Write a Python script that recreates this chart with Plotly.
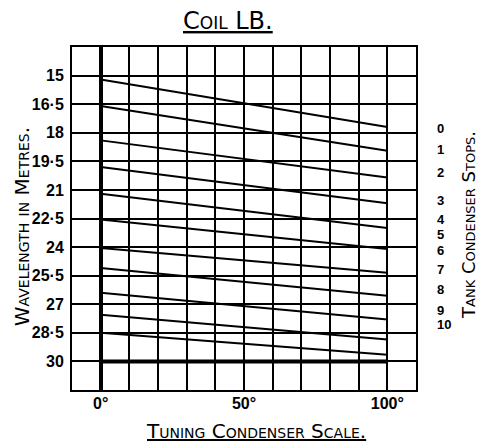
import plotly.graph_objects as go

# ---- data ----
stops = ["0", "1", "2", "3", "4", "5", "6", "7", "8", "9", "10"]
dial = [0, 100]  # tuning condenser scale (degrees)
wl_at_0 = [15.2, 16.6, 18.4, 19.8, 21.2, 22.55, 24.05, 25.1, 26.4, 27.55, 28.5]
wl_at_100 = [17.7, 18.95, 20.35, 21.7, 23.0, 24.1, 25.35, 26.55, 27.8, 28.85, 29.65]
base_line = [30, 30]

x_ticks = [-10, 0, 10, 20, 30, 40, 50, 60, 70, 80, 90, 100, 110]
x_ticktext = ["", "0°", "", "", "", "", "50°", "", "", "", "", "100°", ""]
y_ticks = [13.5, 15, 16.5, 18, 19.5, 21, 22.5, 24, 25.5, 27, 28.5, 30, 31.5]
y_ticktext = ["", "15", "16·5", "18", "19·5", "21", "22·5", "24", "25·5", "27", "28·5", "30", ""]
stop_label_pos = [17.75, 18.85, 20.1, 21.55, 22.55, 23.35, 24.15, 25.15, 26.2, 27.32, 28.06]

FONT = "DejaVu Sans"
NUMFONT = "Liberation Sans"

fig = go.Figure()
for s, a, b in zip(stops, wl_at_0, wl_at_100):
    fig.add_trace(go.Scatter(x=dial, y=[a, b], mode="lines", name="Stop " + s,
                             line=dict(color="black", width=2), showlegend=False))
fig.add_trace(go.Scatter(x=dial, y=base_line, mode="lines", name="base",
                         line=dict(color="black", width=4), showlegend=False))
# invisible trace to carry the right axis
fig.add_trace(go.Scatter(x=[None], y=[None], yaxis="y2", showlegend=False, hoverinfo="skip"))

axis_common = dict(showline=True, mirror=True, linecolor="black", linewidth=2,
                   showgrid=True, gridcolor="black", gridwidth=2, ticks="", automargin=False)

fig.update_layout(
    width=486, height=445,
    margin=dict(l=72, r=70, t=47, b=55, autoexpand=False),
    paper_bgcolor="white", plot_bgcolor="white",
    xaxis=dict(range=[-10, 110], tickmode="array", tickvals=x_ticks, ticktext=x_ticktext,
               zeroline=True, zerolinecolor="black", zerolinewidth=4,
               tickfont=dict(family=NUMFONT, size=16, color="black", weight="bold"),
               ticklabelstandoff=-2, **axis_common),
    yaxis=dict(range=[31.5, 13.5], tickmode="array", tickvals=y_ticks, ticktext=y_ticktext,
               zeroline=False,
               tickfont=dict(family=NUMFONT, size=16, color="black", weight="bold"),
               ticklabelstandoff=3, **axis_common),
    yaxis2=dict(range=[31.5, 13.5], overlaying="y", side="right", tickmode="array",
                tickvals=stop_label_pos, ticktext=stops, showgrid=False, zeroline=False,
                showline=False, ticks="", ticklabelstandoff=20, automargin=False,
                tickfont=dict(family=NUMFONT, size=13, color="black", weight="bold")),
    annotations=[
        dict(text="Coil LB.", xref="paper", yref="paper", x=0.4535, y=1.075,
             xanchor="center", yanchor="middle", showarrow=False,
             font=dict(family=FONT, size=24, color="black", variant="small-caps",
                       lineposition="under")),
        dict(text="Tuning Condenser Scale.", xref="paper", yref="paper", x=0.535, y=-0.12,
             xanchor="center", yanchor="middle", showarrow=False,
             font=dict(family=FONT, size=20, color="black", variant="small-caps",
                       lineposition="under")),
        dict(text="Wavelength in Metres.", xref="paper", yref="paper", x=-0.145, y=0.475,
             xanchor="center", yanchor="middle", showarrow=False, textangle=-90,
             font=dict(family=FONT, size=20, color="black", variant="small-caps")),
        dict(text="Tank Condenser Stops.", xref="paper", yref="paper", x=1.151, y=0.481,
             xanchor="center", yanchor="middle", showarrow=False, textangle=-90,
             font=dict(family=FONT, size=18, color="black", variant="small-caps")),
    ],
)

fig.write_html("out.html", config={"displayModeBar": False},
               post_script="document.body.style.margin='0';")
